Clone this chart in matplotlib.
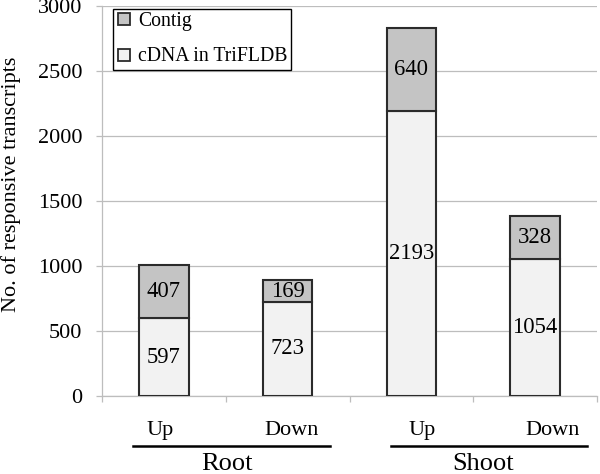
import matplotlib
matplotlib.use("Agg")
import matplotlib.pyplot as plt
from matplotlib.lines import Line2D
import matplotlib.transforms as mtransforms

# ---- data ----
conditions = ["Up", "Down", "Up", "Down"]
groups = ["Root", "Shoot"]
cdna_values = [597, 723, 2193, 1054]
contig_values = [407, 169, 640, 328]
series_names = ["Contig", "cDNA in TriFLDB"]
yticks = [0, 500, 1000, 1500, 2000, 2500, 3000]

plt.rcParams['font.family'] = ['Liberation Serif', 'DejaVu Serif']

fig = plt.figure(figsize=(6.0, 4.74), dpi=100)
ax = fig.add_axes([0.170, 0.1646, 0.825, 0.8228])

x = list(range(len(conditions)))
c_cdna = "#f2f2f2"
c_contig = "#c4c4c4"
edge = "#2b2b2b"
grid_c = "#bdbdbd"
width = 0.40

ax.bar(x, cdna_values, width=width, color=c_cdna, edgecolor=edge, linewidth=1.5, zorder=3)
ax.bar(x, contig_values, width=width, bottom=cdna_values, color=c_contig,
       edgecolor=edge, linewidth=1.5, zorder=3)

for xi, lo, hi in zip(x, cdna_values, contig_values):
    ax.text(xi, lo / 2, str(lo), ha="center", va="center", fontsize=16.3, zorder=4)
    ax.text(xi, lo + hi / 2, str(hi), ha="center", va="center", fontsize=16.3, zorder=4)

ax.set_xlim(-0.5, len(conditions) - 0.5)
ax.set_ylim(0, 3000)
ax.set_yticks(yticks)
ax.set_yticklabels([str(v) for v in yticks], fontsize=16)
ax.yaxis.grid(True, color=grid_c, linewidth=0.9, zorder=0)
ax.set_axisbelow(True)
off = mtransforms.ScaledTranslation(0, -2 / 100, fig.dpi_scale_trans)
for lab in ax.get_yticklabels():
    lab.set_transform(lab.get_transform() + off)

ax.set_xticks([i - 0.5 for i in range(len(conditions) + 1)])
ax.set_xticklabels([])
ax.tick_params(axis="x", direction="out", length=4, color=grid_c, width=0.9)
ax.tick_params(axis="y", direction="out", length=4, color=grid_c, width=0.9, pad=10)

for s in ["top", "right"]:
    ax.spines[s].set_visible(False)
for s in ["left", "bottom"]:
    ax.spines[s].set_color(grid_c)
    ax.spines[s].set_linewidth(0.9)

ax.set_ylabel("No. of responsive transcripts", fontsize=16)
ax.yaxis.set_label_coords(-0.163, 0.542)

trans = mtransforms.blended_transform_factory(ax.transData, ax.transAxes)
# condition labels
label_x = [-0.03, 1.035, 2.085, 3.14]
for lx, lab in zip(label_x, conditions):
    ax.text(lx, -0.100, lab, transform=trans, ha="center", va="baseline", fontsize=16, clip_on=False)

# group lines and labels
group_spans = [(-0.25, 1.34), (1.835, 3.42)]
group_text_x = [0.51, 2.58]
for (a, b), gx, g in zip(group_spans, group_text_x, groups):
    ax.add_line(Line2D([a, b], [-0.128, -0.128], transform=trans, color="black",
                       linewidth=1.8, clip_on=False))
    ax.text(gx, -0.190, g, transform=trans, ha="center", va="baseline", fontsize=19, clip_on=False)

handles = [
    Line2D([], [], marker="s", linestyle="none", markersize=9, markerfacecolor=c_contig,
           markeredgecolor=edge, markeredgewidth=1.3),
    Line2D([], [], marker="s", linestyle="none", markersize=9, markerfacecolor=c_cdna,
           markeredgecolor=edge, markeredgewidth=1.3),
]
leg = ax.legend(handles, series_names, loc="upper left", bbox_to_anchor=(0.022, 0.993),
                borderaxespad=0, fontsize=14.2, frameon=True, fancybox=False,
                handlelength=0.8, handletextpad=0.3, labelspacing=0.82,
                borderpad=0.18, framealpha=1)
leg.get_frame().set_edgecolor("black")
leg.get_frame().set_linewidth(1.0)

fig.savefig("out.png", dpi=100)
